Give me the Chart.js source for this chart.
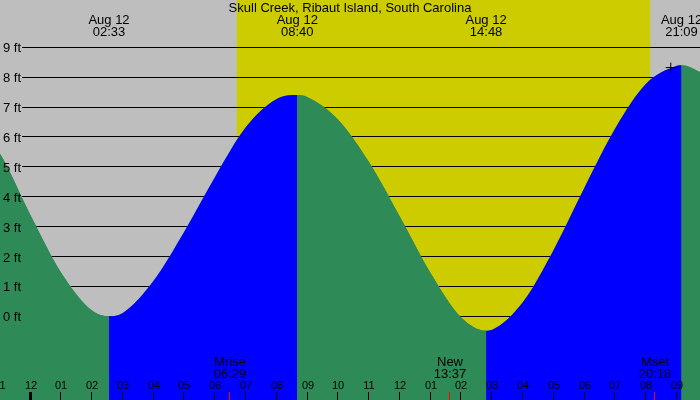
<!DOCTYPE html>
<html>
<head>
<meta charset="utf-8">
<script src="https://cdn.jsdelivr.net/npm/chart.js@4.4.1/dist/chart.umd.min.js"></script>
<style>
  html, body { margin: 0; padding: 0; background: #bebebe; }
  #wrap { width: 700px; height: 400px; }
</style>
</head>
<body>
<div id="wrap"><canvas id="chartTide" width="700" height="400"></canvas></div>
<script>
var stationName = 'Skull Creek, Ribaut Island, South Carolina';
var dayLabel = 'Aug 12';

// tide height in ft (hours from midnight)
var tideHours = [-2.45, -2, -1, 0, 1, 2, 2.55, 3, 4, 5, 6, 7, 8, 8.667, 9, 10, 11, 12, 13, 14, 14.8, 15, 16, 17, 18, 19, 20, 21, 21.15, 22];
var tideFeet = [6.8, 6.7, 5.45, 3.38, 1.45, 0.19, 0.0, 0.11, 1.19, 2.84, 4.67, 6.33, 7.27, 7.4, 7.33, 6.57, 5.15, 3.33, 1.44, -0.05, -0.48, -0.45, 0.48, 2.23, 4.31, 6.29, 7.78, 8.38, 8.4, 8.04];

// high / low water labels along the top
var extremeHours = [2.55, 8.667, 14.8, 21.15];
var extremeTimes = ['02:33', '08:40', '14:48', '21:09'];

// moon events along the bottom
var moonHours = [6.483, 13.617, 20.3];
var moonNames = ['Mrise', 'New', 'Mset'];
var moonTimes = ['06:29', '13:37', '20:18'];

// sunrise / sunset (daylight band)
var sunHours = [6.70, 20.13];

var feetTicks = [0, 1, 2, 3, 4, 5, 6, 7, 8, 9];
var hourTicks = [-1, 0, 1, 2, 3, 4, 5, 6, 7, 8, 9, 10, 11, 12, 13, 14, 15, 16, 17, 18, 19, 20, 21];
var hourLabels = ['11', '12', '01', '02', '03', '04', '05', '06', '07', '08', '09', '10', '11', '12', '01', '02', '03', '04', '05', '06', '07', '08', '09'];

var crossPoint = [{ x: 20.8, y: 8.32 }];

var GREEN = '#2e8b57';
var BLUE = '#0000ff';
var FONT = '"Liberation Sans", Arial, sans-serif';

var tideDecor = {
    id: 'tideDecor',
    beforeDatasetsDraw: function (chart) {
        var ctx = chart.ctx, xs = chart.scales.x, ys = chart.scales.y, area = chart.chartArea;
        ctx.save();
        ctx.fillStyle = '#bebebe';
        ctx.fillRect(area.left, area.top, area.width, area.height);
        var x0 = xs.getPixelForValue(sunHours[0]), x1 = xs.getPixelForValue(sunHours[1]);
        ctx.fillStyle = '#cccc00';
        ctx.fillRect(x0, area.top, x1 - x0, area.height);
        // horizontal foot lines
        ctx.strokeStyle = '#000';
        ctx.lineWidth = 1;
        feetTicks.forEach(function (f) {
            var py = Math.floor(ys.getPixelForValue(f)) + 0.5;
            ctx.beginPath();
            ctx.moveTo(22, py);
            ctx.lineTo(area.right, py);
            ctx.stroke();
        });
        ctx.restore();
    },
    afterDatasetsDraw: function (chart) {
        var ctx = chart.ctx, xs = chart.scales.x, ys = chart.scales.y;
        ctx.save();
        ctx.fillStyle = '#000';
        ctx.font = '13px ' + FONT;

        // title + extreme labels
        ctx.textAlign = 'center';
        ctx.fillText(stationName, 350, 12);
        extremeHours.forEach(function (h, i) {
            var px = xs.getPixelForValue(h);
            ctx.fillText(dayLabel, px, 24);
            ctx.fillText(extremeTimes[i], px, 36);
        });

        // y labels
        ctx.textAlign = 'left';
        feetTicks.forEach(function (f) {
            var py = ys.getPixelForValue(f);
            ctx.fillText(f + ' ft', 3, py + 5);
        });

        // moon labels + red ticks
        ctx.textAlign = 'center';
        moonHours.forEach(function (h, i) {
            var px = Math.round(xs.getPixelForValue(h));
            ctx.fillStyle = '#000';
            ctx.fillText(moonNames[i], px, 366);
            ctx.fillText(moonTimes[i], px, 378);
            ctx.fillStyle = '#ff0000';
            ctx.fillRect(px - 1, 392, 1, 8);
        });

        // hour ticks + labels
        ctx.font = '11px ' + FONT;
        ctx.fillStyle = '#000';
        hourTicks.forEach(function (h, i) {
            var px = Math.round(xs.getPixelForValue(h));
            ctx.fillText(hourLabels[i], px, 389);
            if (h === 0) {
                ctx.fillRect(px - 2, 392, 3, 8);
            } else {
                ctx.fillRect(px - 1, 392, 1, 8);
            }
        });
        ctx.restore();
    }
};

var tidePoints = tideHours.map(function (h, i) { return { x: h, y: tideFeet[i] }; });

var chart = new Chart(document.getElementById('chartTide').getContext('2d'), {
    type: 'line',
    data: {
        datasets: [{
            type: 'scatter',
            data: crossPoint,
            pointStyle: 'cross',
            pointRadius: 5,
            borderColor: '#000',
            borderWidth: 1,
            showLine: false
        }, {
            // rising = blue, falling = green
            data: tidePoints,
            borderColor: 'rgba(0,0,0,0)',
            borderWidth: 0,
            backgroundColor: BLUE,
            pointRadius: 0,
            fill: 'start',
            cubicInterpolationMode: 'monotone',
            segment: {
                backgroundColor: function (c) {
                    return c.p1.parsed.y < c.p0.parsed.y ? GREEN : BLUE;
                }
            }
        }, {
            // plain underlay so the colour joins have no light seam
            data: tidePoints,
            borderColor: 'rgba(0,0,0,0)',
            borderWidth: 0,
            backgroundColor: GREEN,
            pointRadius: 0,
            fill: 'start',
            cubicInterpolationMode: 'monotone'
        }]
    },
    options: {
        responsive: false,
        animation: false,
        events: [],
        layout: { padding: 0, autoPadding: false },
        scales: {
            x: { type: 'linear', min: -0.991, max: 21.75, display: false },
            y: { min: -2.80, max: 10.58, display: false }
        },
        plugins: {
            legend: { display: false },
            tooltip: { enabled: false }
        }
    },
    plugins: [tideDecor]
});
</script>
</body>
</html>
